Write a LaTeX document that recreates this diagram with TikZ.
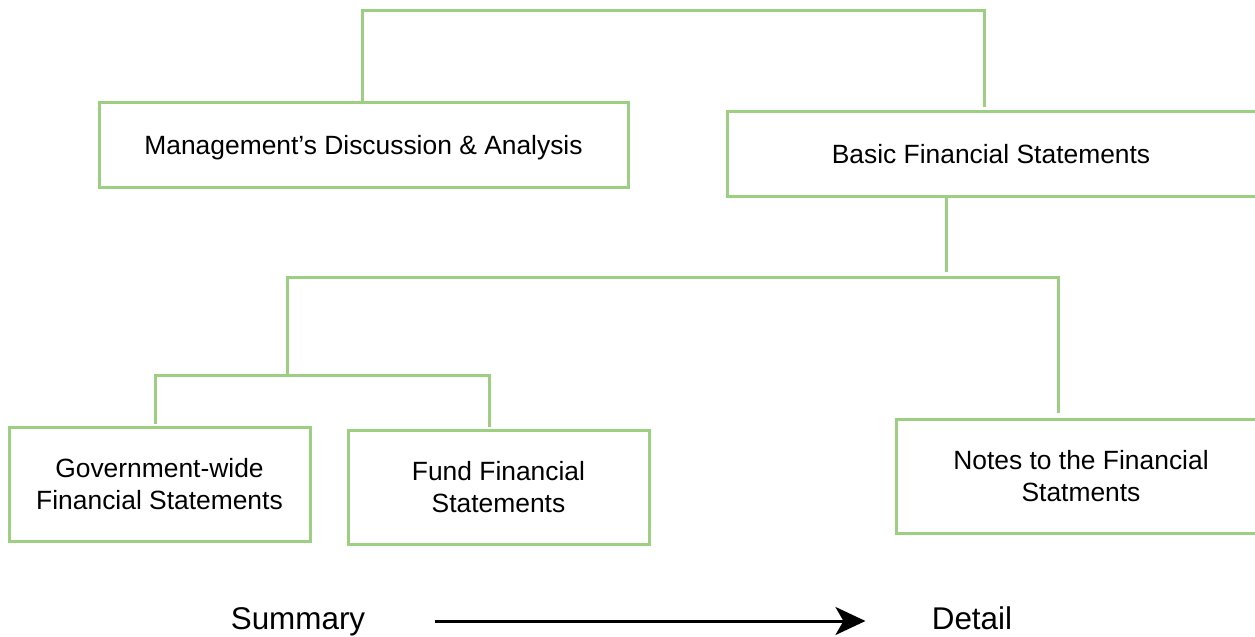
\documentclass[tikz,border=0pt]{standalone}
\usepackage{fontspec}
\setmainfont{Liberation Sans}
\usetikzlibrary{arrows.meta}
\definecolor{boxgreen}{HTML}{9CCF82}
\begin{document}
\begin{tikzpicture}[x=0.5pt,y=-0.5pt,
    box/.style={draw=boxgreen,line width=1.5pt,align=center,inner sep=0pt,
      font=\fontsize{13.2}{16}\selectfont},
    link/.style={draw=boxgreen,line width=1.5pt},
    endlabel/.style={inner sep=0pt,text height=11.5pt,text depth=3.5pt,
      font=\fontsize{15.7}{18}\selectfont}]
  \useasboundingbox (0,0) rectangle (1255,637);
  \clip (0,0) rectangle (1255,637);
  \node[box,text depth=0pt,minimum width=264.5pt,minimum height=42.5pt] (mda) at (363.5,144.5) {Management’s Discussion \& Analysis};
  \node[box,text depth=0pt,minimum width=274pt,minimum height=42.5pt] (bfs) at (1001,153.5) {\hspace*{-10pt}Basic Financial Statements};
  \node[box,minimum width=150.5pt,minimum height=57pt] (gov) at (159.5,484) {Government-wide\\Financial Statements};
  \node[box,minimum width=150.5pt,minimum height=57pt] (fund) at (498.5,487) {Fund Financial\\Statements};
  \node[box,minimum width=185pt,minimum height=57pt] (notes) at (1081,476) {Notes to the Financial\\Statments};
  \node[endlabel] (sum) at (298,621) {Summary};
  \node[endlabel] (det) at (972,621) {Detail};

  \coordinate (tl) at (362,10);
  \coordinate (tr) at (984,10);
  \coordinate (te) at (984,107);
  \coordinate (jb) at (946,272);
  \coordinate (jl) at (287,277);
  \coordinate (jr) at (1058,277);
  \coordinate (jn) at (1058,413);
  \coordinate (gl) at (155,375);
  \coordinate (gm) at (287,375);
  \coordinate (gr) at (489,375);

  \draw[link] (mda.north -| tl) -- (tl) -- (tr) -- (te);
  \draw[link] (bfs.south -| jb) -- (jb);
  \draw[link] (gm) -- (jl) -- (jr) -- (jn);
  \draw[link] ([yshift=1pt]gov.north -| gl) -- (gl) -- (gr) -- ([yshift=1pt]fund.north -| gr);
  \draw[-{Stealth[length=15pt,width=14pt,inset=4pt]},line width=1.5pt,
    shorten <=34.5pt,shorten >=33pt] (sum) -- (det);
\end{tikzpicture}
\end{document}
